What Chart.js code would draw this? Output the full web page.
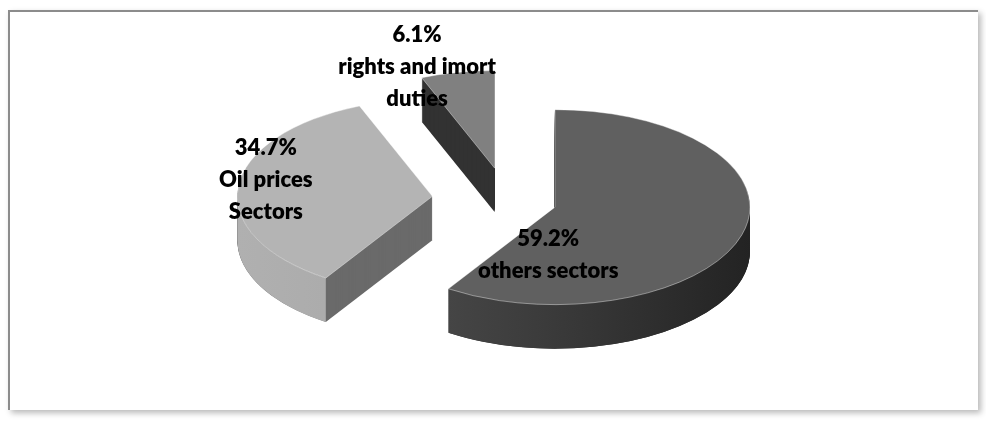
<!DOCTYPE html>
<html>
<head>
<meta charset="utf-8">
<script src="https://cdn.jsdelivr.net/npm/chart.js@4.4.1/dist/chart.umd.min.js"></script>
<style>
  html, body { margin: 0; padding: 0; background: #fff; }
  #wrap { position: relative; width: 986px; height: 422px; overflow: hidden; }
  #frame {
    position: absolute; left: 8px; top: 10px; width: 968px; height: 398px;
    border-left: 2px solid #8c8c8c; border-top: 2px solid #8c8c8c;
    box-shadow: 3px 3px 6px rgba(0, 0, 0, 0.28);
  }
  #pie { position: absolute; left: 0; top: 0; }
</style>
</head>
<body>
<div id="wrap">
  <div id="frame"></div>
  <canvas id="pie" width="986" height="422"></canvas>
</div>
<script>
// data
const categories = ["others sectors", "Oil prices Sectors", "rights and imort duties"];
const shares = [59.2, 34.7, 6.1];
const nameLines = [["others sectors"], ["Oil prices", "Sectors"], ["rights and imort", "duties"]];

// look of the fake 3d pie
const TILT = 0.5;     // vertical squash of the pie top
const DEPTH = 44;     // thickness in px
const topColors = ["#606060", "#b4b4b4", "#808080"];
const cutColors = ["#2c2c2c", "#6a6a6a", "#323232"];
const wallColors = [["#4e4e4e", "#3a3a3a", "#232323"], ["#b0b0b0", "#a7a7a7", "#a2a2a2"], ["#333", "#333", "#333"]];
const explode = [50, 75, 65];
const labelPolar = [[94, 0.49], [191, 0.87], [249, 1.11]]; // deg, fraction of radius

function geom(arc, i) {
  const p = arc.getProps(["x", "y", "startAngle", "endAngle", "outerRadius"]);
  const mid = (p.startAngle + p.endAngle) / 2;
  const off = explode[i];
  return {
    s: p.startAngle, e: p.endAngle, x0: p.x, y0: p.y,
    cx: p.x + Math.cos(mid) * off,
    cy: p.y + Math.sin(mid) * off * TILT,
    rx: p.outerRadius, ry: p.outerRadius * TILT
  };
}

const pie3d = {
  id: "pie3d",
  beforeDatasetsDraw(chart) {
    const ctx = chart.ctx;
    const arcs = chart.getDatasetMeta(0).data;
    // walls, back to front
    [2, 1, 0].forEach(i => {
      const g = geom(arcs[i], i);
      ctx.save();
      ctx.fillStyle = cutColors[i];
      for (let d = DEPTH; d >= 1; d--) {
        ctx.beginPath();
        ctx.moveTo(g.cx, g.cy + d);
        ctx.ellipse(g.cx, g.cy + d, g.rx, g.ry, 0, g.s, g.e);
        ctx.closePath();
        ctx.fill();
      }
      const a0 = Math.max(g.s, 0), a1 = Math.min(g.e, Math.PI);
      if (a1 > a0) {
        const grad = ctx.createLinearGradient(g.cx - g.rx, 0, g.cx + g.rx, 0);
        grad.addColorStop(0, wallColors[i][0]);
        grad.addColorStop(0.5, wallColors[i][1]);
        grad.addColorStop(1, wallColors[i][2]);
        ctx.fillStyle = grad;
        ctx.beginPath();
        ctx.ellipse(g.cx, g.cy, g.rx, g.ry, 0, a0, a1);
        ctx.ellipse(g.cx, g.cy + DEPTH, g.rx, g.ry, 0, a1, a0, true);
        ctx.closePath();
        ctx.fill();
      }
      ctx.restore();
    });
    // tops, drawn by the arc elements themselves, squashed and pulled out
    arcs.forEach((arc, i) => {
      const g = geom(arc, i);
      ctx.save();
      ctx.translate(g.cx, g.cy);
      ctx.scale(1, TILT);
      ctx.translate(-g.x0, -g.y0);
      arc.draw(ctx);
      ctx.restore();
    });
    return false;
  },
  afterDraw(chart) {
    const ctx = chart.ctx;
    const arcs = chart.getDatasetMeta(0).data;
    ctx.save();
    ctx.fillStyle = "#000";
    ctx.font = "800 22px Lato, 'Open Sans', sans-serif";
    ctx.textAlign = "center";
    ctx.textBaseline = "middle";
    arcs.forEach((arc, i) => {
      const g = geom(arc, i);
      const a = labelPolar[i][0] * Math.PI / 180, f = labelPolar[i][1];
      const x = g.cx + g.rx * f * Math.cos(a);
      const y = g.cy + g.ry * f * Math.sin(a);
      const lines = [shares[i].toFixed(1) + "%"].concat(nameLines[i]);
      const lh = 32;
      lines.forEach((t, j) => ctx.fillText(t, x, y + (j - (lines.length - 1) / 2) * lh));
    });
    ctx.restore();
  }
};

new Chart(document.getElementById("pie"), {
  type: "pie",
  data: {
    labels: categories,
    datasets: [{
      data: shares,
      backgroundColor: topColors,
      borderColor: "rgba(255,255,255,0.55)",
      borderWidth: 1
    }]
  },
  options: {
    responsive: false,
    animation: false,
    events: [],
    radius: 195,
    layout: { padding: { left: 28, bottom: 22 } },
    plugins: { legend: { display: false }, tooltip: { enabled: false } }
  },
  plugins: [pie3d]
});
</script>
</body>
</html>
